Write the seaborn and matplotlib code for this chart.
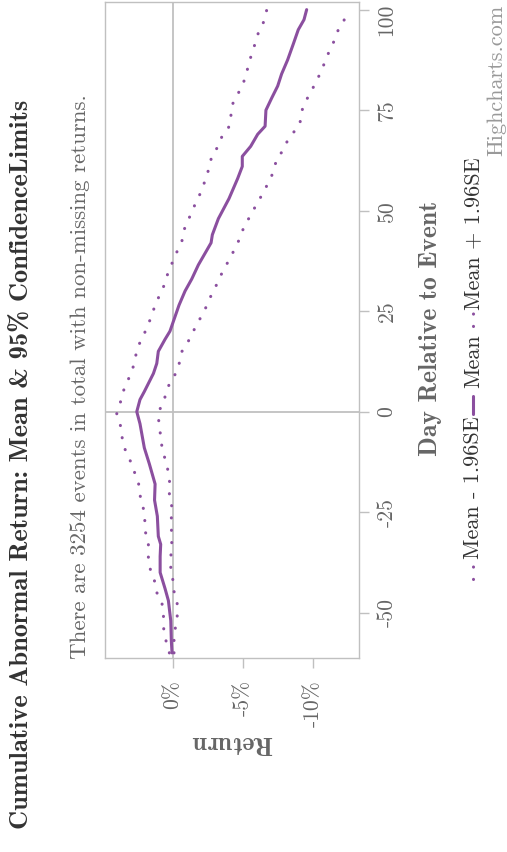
import numpy as np
import pandas as pd
import seaborn as sns
import matplotlib
matplotlib.use('Agg')
import matplotlib.pyplot as plt
from matplotlib.lines import Line2D
from matplotlib.transforms import ScaledTranslation

# 평균 누적 비정상 수익률 (%), 이벤트 기준일
mean_day = [-60, -57, -52, -47, -44, -40, -36, -33, -31, -26, -22, -18, -13, -9, -3, 0, 3, 5, 9.5, 12,
            15, 18, 20, 22, 26.5, 30, 33, 36.5, 42, 44, 48, 53, 58, 61, 63.5, 66, 69, 71, 75, 78,
            81, 84, 87.5, 91.5, 95, 97.5, 100]
mean_ret = [0.05, 0.1, 0.14, 0.31, 0.55, 0.9, 0.9, 0.86, 1.03, 1.1, 1.3, 1.26, 1.67, 2.03, 2.34, 2.57, 2.34, 2.03, 1.38, 1.14,
            1.03, 0.55, 0.2, 0.0, -0.45, -0.88, -1.36, -1.83, -2.74, -2.83, -3.26, -4.02, -4.64, -4.97, -4.97, -5.57, -6.07, -6.6, -6.66, -7.07,
            -7.5, -7.78, -8.21, -8.62, -8.97, -9.38, -9.57]

# Mean + 1.96SE
upper_day = [-60, -57, -54.5, -49.5, -47, -45, -42, -40, -37, -32, -30, -25, -22, -20, -17.5, -15, -12.5, -10, -8, -5.5,
             -3, -0.5, 2, 4.5, 7, 9, 11.5, 14, 16.5, 18.5, 21, 23.5, 26, 28, 30.5, 32.5, 35, 37.5, 40, 42.5,
             45, 47, 49.5, 52, 54, 56.5, 59, 61.5, 64, 66, 68.5, 70.5, 72.5, 75.5, 77.5, 80, 82, 84.5, 87, 89.5,
             92, 94.5, 96.5, 99, 100]
upper_ret = [0.24, 0.48, 0.64, 0.67, 0.81, 1.14, 1.31, 1.55, 1.74, 1.74, 1.95, 2.03, 2.26, 2.38, 2.45, 2.74, 3.0, 3.33, 3.57, 3.64,
             3.76, 4.0, 3.76, 3.6, 3.31, 3.05, 2.79, 2.64, 2.45, 2.12, 1.86, 1.53, 1.31, 1.07, 0.71, 0.53, 0.29, -0.02, -0.33, -0.66,
             -0.79, -1.0, -1.36, -1.64, -1.93, -2.21, -2.47, -2.64, -2.83, -3.26, -3.52, -3.97, -4.16, -4.16, -4.4, -4.81, -5.07, -5.29, -5.47, -5.69,
             -5.93, -6.14, -6.45, -6.66, -6.72]

# Mean - 1.96SE
lower_day = [-60, -57, -54.5, -52, -49.5, -47, -44.5, -42, -39.5, -36.5, -34, -31.5, -29, -26.5, -24, -21.5, -19, -16.5, -14, -11.5,
             -9, -6.5, -4, -1.5, 0.5, 3, 5.5, 8, 10, 12.5, 15, 17, 19.5, 21.5, 24, 26, 28.5, 31, 33, 35.5,
             37.5, 40, 42.5, 44.5, 47, 49, 51.5, 53.5, 56, 58, 60.5, 63, 65, 67.5, 69.5, 71.5, 74, 76.5, 78.5, 81,
             83, 85.5, 88, 90, 92.5, 95, 97, 99.5, 100]
lower_ret = [-0.09, -0.09, -0.14, -0.31, -0.33, -0.31, -0.07, -0.02, 0.14, 0.14, 0.1, 0.05, 0.1, 0.1, 0.02, 0.26, 0.21, 0.24, 0.38, 0.57,
             0.76, 0.86, 0.93, 1.03, 0.93, 0.6, 0.43, 0.07, -0.31, -0.5, -0.66, -1.04, -1.4, -1.69, -2.09, -2.38, -2.69, -3.05, -3.33, -3.64,
             -4.0, -4.36, -4.71, -4.93, -5.21, -5.64, -5.95, -6.31, -6.69, -7.0, -7.26, -7.43, -7.9, -8.21, -8.64, -9.09, -9.16, -9.38, -9.71, -10.09,
             -10.38, -10.71, -10.97, -11.24, -11.57, -11.83, -12.21, -12.43, -12.46]

day_ticks = [-50, -25, 0, 25, 50, 75, 100]
ret_ticks = [0, -5, -10]
ret_labels = ['0%', '-5%', '-10%']

title = 'Cumulative Abnormal Return: Mean & 95% ConfidenceLimits'
subtitle = 'There are 3254 events in total with non-missing returns.'

#%%
sns.set_style('white')
plt.rcParams['font.family'] = ['cmr10', 'DejaVu Serif']
plt.rcParams['axes.unicode_minus'] = False

purple = '#8b4f9f'
grid_gray = '#c0c0c0'
bold_fam = ['cmb10', 'DejaVu Serif']
W, H = 507, 852

mean_df = pd.DataFrame({'day': mean_day, 'ret': mean_ret})
upper_df = pd.DataFrame({'day': upper_day, 'ret': upper_ret})
lower_df = pd.DataFrame({'day': lower_day, 'ret': lower_ret})

fig = plt.figure(figsize=(W / 100, H / 100), dpi=100)
ax = fig.add_axes([105 / W, 1 - 658 / H, 254 / W, 656 / H])

dot = (0, (0.05, 4))
sns.lineplot(data=lower_df, x='ret', y='day', orient='y', estimator=None, sort=False,
             color=purple, lw=2.2, linestyle=dot, dash_capstyle='round', ax=ax)
sns.lineplot(data=mean_df, x='ret', y='day', orient='y', estimator=None, sort=False,
             color=purple, lw=2.2, ax=ax)
sns.lineplot(data=upper_df, x='ret', y='day', orient='y', estimator=None, sort=False,
             color=purple, lw=2.2, linestyle=dot, dash_capstyle='round', ax=ax)

ax.axvline(0, color=grid_gray, lw=1.3, zorder=0)
ax.axhline(0, color=grid_gray, lw=1.3, zorder=0)

ax.set_xlim(4.84, -13.31)
ax.set_ylim(-61.27, 101.9)

for s in ax.spines.values():
    s.set_color(grid_gray)
    s.set_linewidth(1)

ax.yaxis.tick_right()
ax.set_yticks(day_ticks)
ax.set_yticklabels([str(d) for d in day_ticks], rotation=90, va='center', ha='left')
ax.set_xticks(ret_ticks)
ax.set_xticklabels(ret_labels, rotation=90, ha='center', va='top')
ax.tick_params(axis='y', right=True, length=7.5, width=1, color=grid_gray, pad=5.5,
               labelsize=15.5, labelcolor='#666666')
ax.tick_params(axis='x', bottom=True, length=7.5, width=1, color=grid_gray, pad=8.5,
               labelsize=15.5, labelcolor='#666666')
ax.set_xlabel('')
ax.set_ylabel('')

# 맨 위 라벨(100)은 잘리지 않게 아래로 조금 밀기
top_lab = ax.get_yticklabels()[-1]
top_lab.set_transform(top_lab.get_transform() + ScaledTranslation(0, -0.1, fig.dpi_scale_trans))

# 제목/부제/축제목 (회전된 배치)
fig.text(22 / W, 1 - 464 / H, title, rotation=90, ha='center', va='center',
         fontsize=19, family=bold_fam, color='#333333')
fig.text(80 / W, 1 - 377 / H, subtitle, rotation=90, ha='center', va='center',
         fontsize=16.5, color='#666666')
fig.text(430 / W, 1 - 328 / H, 'Day Relative to Event', rotation=90, ha='center', va='center',
         fontsize=18.5, family=bold_fam, color='#666666')
fig.text(232 / W, 1 - 742 / H, 'Return', rotation=180, ha='center', va='center',
         fontsize=18.5, family=bold_fam, color='#666666')
fig.text(497 / W, 1 - 80 / H, 'Highcharts.com', rotation=90, ha='center', va='center',
         fontsize=16, color='#999999')

# 범례
lx = 473 / W
leg_fs = 16
fig.add_artist(Line2D([lx, lx], [1 - 579 / H, 1 - 565 / H], transform=fig.transFigure,
                      color=purple, lw=2.2, linestyle=dot, dash_capstyle='round'))
fig.text(lx, 1 - 488 / H, 'Mean - 1.96SE', rotation=90, ha='center', va='center',
         fontsize=leg_fs, color='#333333')
fig.add_artist(Line2D([lx, lx], [1 - 414 / H, 1 - 396 / H], transform=fig.transFigure,
                      color=purple, lw=2.2))
fig.text(lx, 1 - 361 / H, 'Mean', rotation=90, ha='center', va='center',
         fontsize=leg_fs, color='#333333')
fig.add_artist(Line2D([lx, lx], [1 - 326 / H, 1 - 312 / H], transform=fig.transFigure,
                      color=purple, lw=2.2, linestyle=dot, dash_capstyle='round'))
fig.text(lx, 1 - 234 / H, 'Mean + 1.96SE', rotation=90, ha='center', va='center',
         fontsize=leg_fs, color='#333333')

fig.savefig('out.png', dpi=100)
